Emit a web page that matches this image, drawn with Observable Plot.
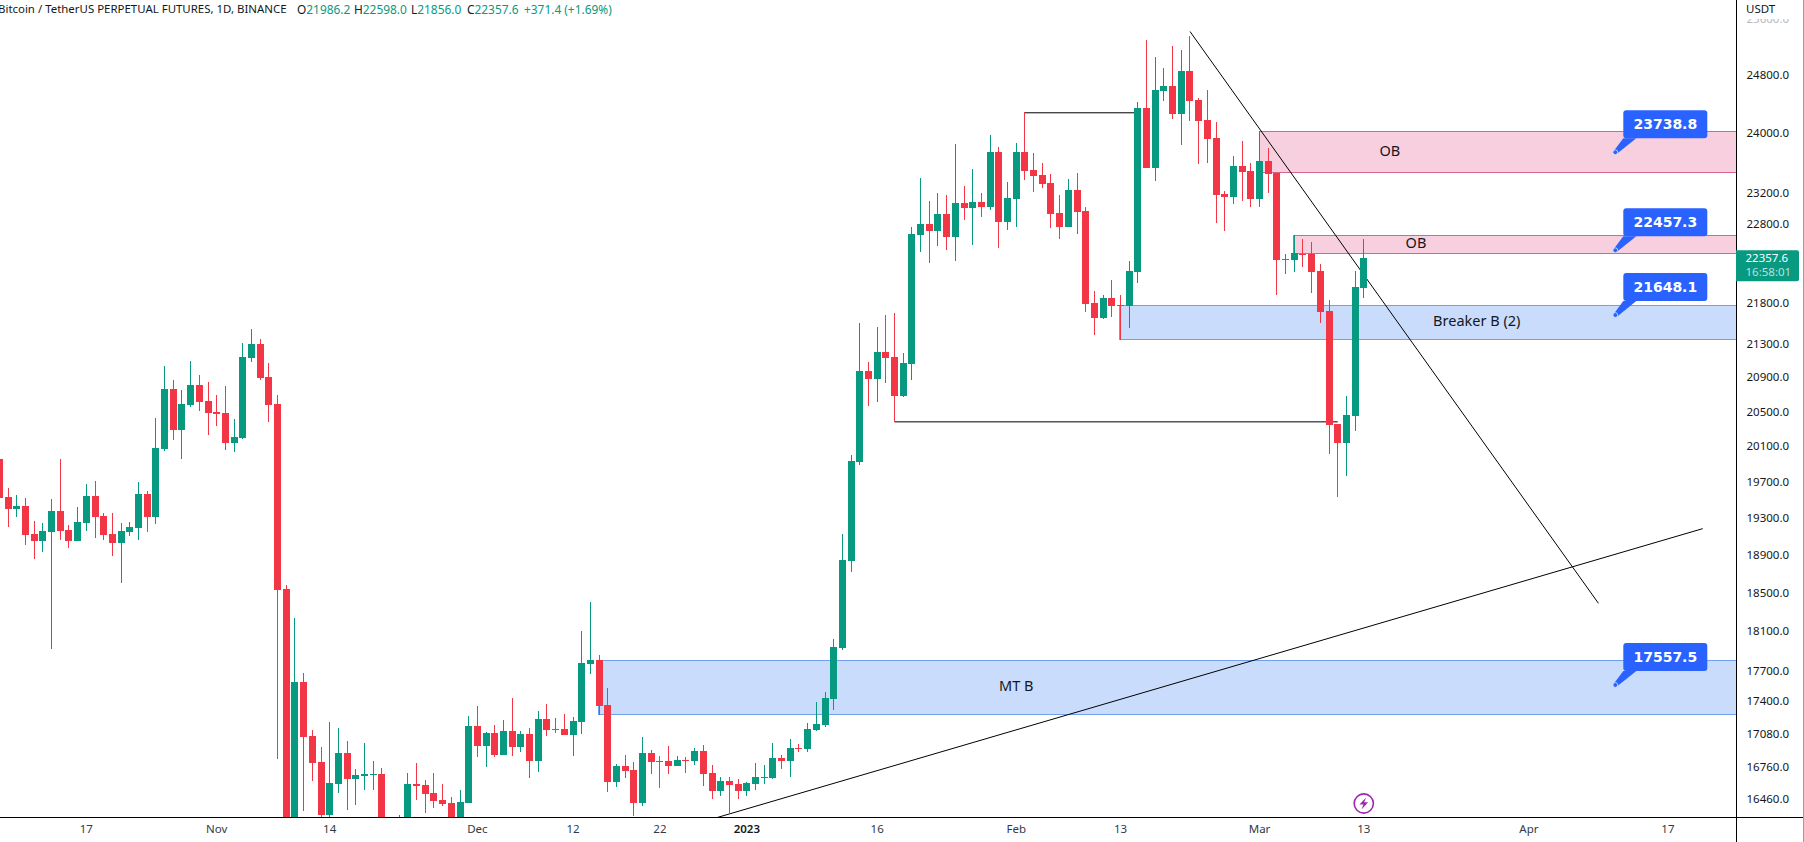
<!DOCTYPE html>
<html>
<head>
<meta charset="utf-8">
<script src="https://cdn.jsdelivr.net/npm/d3@7"></script>
<script src="https://cdn.jsdelivr.net/npm/@observablehq/plot@0.6"></script>
<style>
  html, body { margin: 0; padding: 0; background: #fff; overflow: hidden; }
  #wrap { position: relative; width: 1804px; height: 842px; font-family: "Noto Sans", sans-serif; overflow: hidden; }
  #wrap svg { display: block; }
  .hd { position: absolute; top: 1px; font-size: 11.45px; line-height: 16px; color: #131722; white-space: nowrap; }
  .hd b { font-weight: 400; color: #089981; }
  .hd.v { font-size: 11.9px; }
  #unit { position: absolute; left: 1737px; top: 0; width: 66px; height: 19px; background: #fff; font-size: 11.5px; line-height: 18px; color: #131722; text-indent: 9px; }
  #edge { position: absolute; left: 1803px; top: 0; width: 1px; height: 842px; background: #9a9ea8; }
</style>
</head>
<body>
<div id="wrap">
  <div class="hd" style="left:-2px">Bitcoin / TetherUS PERPETUAL FUTURES, 1D, BINANCE</div>
  <div class="hd v" style="left:297px">O<b>21986.2</b></div>
  <div class="hd v" style="left:354px">H<b>22598.0</b></div>
  <div class="hd v" style="left:411px">L<b>21856.0</b></div>
  <div class="hd v" style="left:467px">C<b>22357.6</b></div>
  <div class="hd v" style="left:524px"><b>+371.4 (+1.69%)</b></div>
</div>
<script>
// Daily candles, 7 Oct 2022 to 13 Mar 2023
const firstDay = "2022-10-07";
const opens = [
  19953,19529,19396,19429,19124,19048,19145,19374,19167,19048,19242,19540,19319,19124,19027,19145,19189,19562,19308,20067,20760,20284,20573,20807,20619,
  20492,20480,20136,20193,21129,21296,20902,20585,18538,15880,17587,17057,16808,16310,16599,16893,16646,16675,16684,16693,16270,15780,16210,16599,16590,16515,16450,16422,16210,16422,
  17153,16961,17086,16875,17105,16952,17077,16817,17222,17125,17125,17067,17192,17767,17807,17359,16618,16770,16732,16422,16893,16817,16817,16770,16827,16817,16912,16703,16534,16628,16599,
  16534,16599,16656,16656,16846,16817,16942,16932,17115,17163,17418,17928,18833,19919,20974,20878,21200,21141,20677,21057,22652,22794,22704,22922,22626,23066,23000,23079,23013,23742,22817,
  23116,23742,23500,23435,23329,22935,22755,23236,22961,21796,21612,21858,21771,21759,22183,24341,23526,24575,24645,24259,24856,24451,24176,23930,23183,23143,23553,23486,
  23116,23620,23462,22347,22334,22410,22410,22195,21697,20353,20136,20445,21986.2
];
const highs = [
  19970,19629,19551,19518,19264,19242,19507,19953,19221,19418,19673,19706,19352,19352,19242,19253,19695,19595,20422,21034,20866,20748,21093,20925,20842,
  20689,20795,20411,21308,21478,21357,21069,20689,18580,18235,17676,17115,16952,17192,17134,17009,16741,16990,16817,16751,16280,16310,16703,16798,16637,16703,16599,16478,16543,17251,
  17349,17096,17163,17212,17428,17105,17134,17300,17369,17231,17271,17241,18102,18401,17858,17527,16789,16875,16808,17048,16922,16865,16961,16865,16855,16942,16971,16779,16665,16665,16646,
  16618,16798,16779,16990,16875,17028,16981,17183,17388,17488,18020,19124,19999,21550,21081,21502,21648,21673,21188,22755,23395,23092,23196,23170,23848,23289,23513,23196,23971,23809,23342,
  23863,24287,23729,23593,23449,23170,23382,23462,23013,21945,21895,22083,21895,22321,24424,25297,25054,24899,25210,25153,25355,24479,24589,24149,23222,23688,23890,23593,
  24026,23796,23462,22410,22652,22600,22561,22284,21833,20353,20677,22195,22598
];
const lows = [
  19500,19199,19308,19005,18855,18930,17918,19059,18973,19048,19156,19081,19059,18887,18601,19102,19059,19145,19231,20044,20170,19953,20550,20503,20227,
  20330,20055,20032,20181,21081,20866,20376,16836,15550,15770,16348,16628,16240,15800,16515,16357,16403,16543,16543,16160,15480,15630,16160,16450,16329,16376,16394,15990,16090,16422,
  16855,16760,16855,16875,16865,16903,16656,16713,17057,17086,17067,16865,17077,17666,17261,16524,16571,16656,16301,16394,16693,16562,16693,16770,16703,16779,16581,16459,16487,16320,16459,
  16487,16543,16599,16646,16741,16665,16903,16903,17105,17144,17310,17908,18717,19886,20561,20608,20831,20376,20666,20866,22435,22296,22510,22460,22321,22843,22523,22882,22974,22485,22716,
  22755,23369,23209,23262,22742,22600,22755,22665,21685,21405,21600,21624,21345,21490,22045,23526,23355,24437,24190,23836,24163,23580,23593,22807,22704,23053,23092,23013,
  23013,23196,21895,22157,22183,22246,21919,21550,20010,19529,19762,20273,21856
];
const closes = [
  19518,19396,19429,19113,19048,19156,19374,19156,19048,19253,19540,19308,19113,19027,19156,19199,19562,19308,20079,20760,20284,20585,20807,20608,20480,
  20469,20136,20204,21141,21296,20890,20573,18527,15880,17587,17048,16798,16310,16609,16893,16646,16684,16693,16693,16270,15780,16210,16599,16581,16505,16441,16413,16210,16431,17153,
  16961,17086,16875,17105,16952,17077,16817,17222,17115,17115,17067,17202,17777,17807,17349,16618,16770,16722,16422,16893,16808,16808,16770,16827,16817,16912,16693,16534,16628,16590,16534,
  16609,16665,16665,16846,16817,16942,16932,17125,17173,17428,17939,18844,19931,20974,20878,21200,21129,20677,21069,22665,22794,22704,22922,22626,23066,23000,23079,23013,23742,22817,23129,
  23742,23486,23422,23315,22922,22755,23236,22948,21784,21612,21858,21759,21759,22195,24341,23526,24589,24645,24259,24856,24437,24163,23917,23170,23143,23553,23473,23116,
  23620,23449,22334,22334,22422,22397,22183,21685,20341,20136,20457,21993,22357.6
];

// Drawn zones
const zoneLabels = ["OB", "OB", "Breaker B (2)", "MT B"];
const zoneStarts = ["2023-03-01", "2023-03-05", "2023-02-13", "2022-12-15"];
const zoneTops = [24022, 22648, 21771, 17804];
const zoneBottoms = [23468, 22418, 21353, 17268];
const zoneLabelDays = ["2023-03-16", "2023-03-19", "2023-03-26", "2023-02-01"];
const zoneFills = ["#f8cfde", "#f8cfde", "#c9dcfc", "#c9dcfc"];
const zoneStrokes = ["#d9648d", "#d9648d", "#729ff0", "#729ff0"];

// Drawn lines
const segmentStartDays = ["2023-02-02", "2023-01-18", "2023-02-21", "2022-12-28"];
const segmentEndDays = ["2023-02-15", "2023-03-10", "2023-04-09", "2023-04-21"];
const segmentStartPrices = [24282, 20384, 25426, 16279];
const segmentEndPrices = [24282, 20384, 18394, 19188];

// Callouts
const calloutDay = "2023-04-11";
const calloutPrices = [23738.8, 22457.3, 21648.1, 17557.5];

// Axes
const priceTicks = [25600, 24800, 24000, 23200, 22800, 21800, 21300, 20900, 20500, 20100, 19700, 19300, 18900, 18500, 18100, 17700, 17400, 17080, 16760, 16460];
const timeTickDays = ["2022-10-17", "2022-11-01", "2022-11-14", "2022-12-01", "2022-12-12", "2022-12-22", "2023-01-01", "2023-01-16", "2023-02-01", "2023-02-13", "2023-03-01", "2023-03-13", "2023-04-01", "2023-04-17"];
const timeTickLabels = ["17", "Nov", "14", "Dec", "12", "22", "2023", "16", "Feb", "13", "Mar", "13", "Apr", "17"];
const lastCountdown = "16:58:01";
const eventDay = "2023-03-13";

const day = s => new Date(s + "T00:00:00Z");
const candles = opens.map((open, i) => ({
  date: d3.utcDay.offset(day(firstDay), i), open, high: highs[i], low: lows[i], close: closes[i]
}));
const zones = zoneLabels.map((label, i) => ({
  label, start: day(zoneStarts[i]), top: zoneTops[i], bottom: zoneBottoms[i],
  labelDay: day(zoneLabelDays[i]), fill: zoneFills[i], stroke: zoneStrokes[i]
}));
const segments = segmentStartDays.map((d, i) => ({
  x1: day(d), x2: day(segmentEndDays[i]), y1: segmentStartPrices[i], y2: segmentEndPrices[i]
}));
const timeLabelMap = new Map(timeTickDays.map((d, i) => [+day(d), timeTickLabels[i]]));

const xDomain = [new Date("2022-10-07T02:50:00Z"), new Date("2023-04-24T21:20:00Z")];
const yDomain = [16293, 25876];
const last = candles[candles.length - 1];
const GREEN = "#089981", RED = "#f23645", BLUE = "#2962ff", PURPLE = "#9c27b0", INK = "#131722";
const colorOf = d => d.close >= d.open ? GREEN : RED;

const bolt = {
  draw(ctx, size) {
    const r = Math.sqrt(size / Math.PI);
    const p = [[0.38, -1], [-0.72, 0.16], [-0.06, 0.16], [-0.38, 1], [0.72, -0.2], [0.06, -0.2]];
    p.forEach(([a, b], i) => i ? ctx.lineTo(a * r, b * r) : ctx.moveTo(a * r, b * r));
    ctx.closePath();
  }
};

function calloutMark(index, scales) {
  const g = d3.create("svg:g");
  for (const price of calloutPrices) {
    const px = scales.x(day(calloutDay)), py = scales.y(price);
    const c = g.append("g").attr("transform", `translate(${px},${py})`);
    c.append("path").attr("d", "M-1.4,-1.4L8,-14L21,-14L1.6,1.6Z").attr("fill", BLUE);
    c.append("rect").attr("x", 8).attr("y", -42).attr("width", 84).attr("height", 28).attr("rx", 3).attr("fill", BLUE);
    c.append("circle").attr("r", 2.4).attr("fill", BLUE).attr("stroke", "#dce6ff").attr("stroke-width", 0.8);
    c.append("text").attr("x", 50).attr("y", -28).attr("dy", "0.36em").attr("text-anchor", "middle")
      .attr("font-family", "DejaVu Sans").attr("font-weight", 700).attr("font-size", 14).attr("fill", "#fff")
      .text(price.toFixed(1));
  }
  return g.node();
}

function priceTagMark(index, scales, values, dims) {
  const g = d3.create("svg:g").attr("text-anchor", "start");
  const x0 = dims.width - dims.marginRight, py = scales.y(last.close);
  g.append("path").attr("d", `M${x0},${py - 8}h61a2,2 0 0 1 2,2v27a2,2 0 0 1 -2,2h-61Z`).attr("fill", GREEN);
  g.append("text").attr("x", x0 + 9.5).attr("y", py).attr("dy", "0.36em").attr("font-size", 11.5).attr("fill", "#fff").text(last.close.toFixed(1));
  g.append("text").attr("x", x0 + 9.5).attr("y", py + 14).attr("dy", "0.36em").attr("font-size", 11.5).attr("fill", "#fff").attr("fill-opacity", 0.72).text(lastCountdown);
  return g.node();
}

const chart = Plot.plot({
  width: 1804,
  height: 842,
  marginTop: 0,
  marginLeft: 0,
  marginRight: 68,
  marginBottom: 25,
  style: { background: "#fff", fontFamily: "'Noto Sans', sans-serif", overflow: "hidden" },
  x: { type: "utc", domain: xDomain },
  y: { type: "log", domain: yDomain },
  marks: [
    Plot.rect(zones, { x1: "start", x2: () => xDomain[1], y1: "bottom", y2: "top", fill: "fill", stroke: "stroke", strokeWidth: 1, shapeRendering: "crispEdges", clip: true }),
    Plot.text(zones, { x: "labelDay", y: d => Math.sqrt(d.top * d.bottom), dy: -1, text: "label", fill: INK, fontSize: 14.5, fontFamily: "'Noto Sans', sans-serif" }),
    Plot.link(segments, { x1: "x1", x2: "x2", y1: "y1", y2: "y2", stroke: "#000", strokeWidth: 1, clip: true }),
    Plot.ruleX(candles, { x: "date", y1: "low", y2: "high", stroke: colorOf, strokeWidth: 1, shapeRendering: "crispEdges", clip: true }),
    Plot.ruleX(candles, { x: "date", y1: "open", y2: "close", stroke: colorOf, strokeWidth: 7, shapeRendering: "crispEdges", clip: true }),
    Plot.dot([day(eventDay)], { x: d => d, frameAnchor: "bottom", dy: -14, r: 9.6, fill: "#fff", stroke: PURPLE, strokeWidth: 1.6 }),
    Plot.dot([day(eventDay)], { x: d => d, frameAnchor: "bottom", dy: -14, r: 6, symbol: bolt, fill: PURPLE, stroke: "none" }),
    Plot.ruleX([xDomain[1]], { stroke: "#000", strokeWidth: 1.3, insetBottom: -25, shapeRendering: "crispEdges" }),
    Plot.ruleY([yDomain[0]], { stroke: "#000", strokeWidth: 1.3, insetRight: -68, shapeRendering: "crispEdges" }),
    Plot.axisY({
      anchor: "right", ticks: priceTicks, tickFormat: d => d.toFixed(1), tickSize: 0, tickPadding: 10,
      label: null, fontSize: 11.5, fill: d => d === priceTicks[0] ? "#b6b9bf" : INK, textAnchor: "start"
    }),
    Plot.axisX({
      ticks: timeTickDays.map(day), tickFormat: d => timeLabelMap.get(+d), tickSize: 0, tickPadding: 7,
      label: null, fontSize: 11.5, fill: "#333a45"
    }),
    priceTagMark,
    calloutMark
  ]
});
d3.select(chart).selectAll("text").filter(function () { return this.textContent === "2023"; })
  .attr("font-weight", 600).attr("fill", INK);
const wrap = document.getElementById("wrap");
wrap.insertBefore(chart, wrap.firstChild);
const unit = document.createElement("div"); unit.id = "unit"; unit.textContent = "USDT"; wrap.appendChild(unit);
const edge = document.createElement("div"); edge.id = "edge"; wrap.appendChild(edge);
</script>
</body>
</html>
